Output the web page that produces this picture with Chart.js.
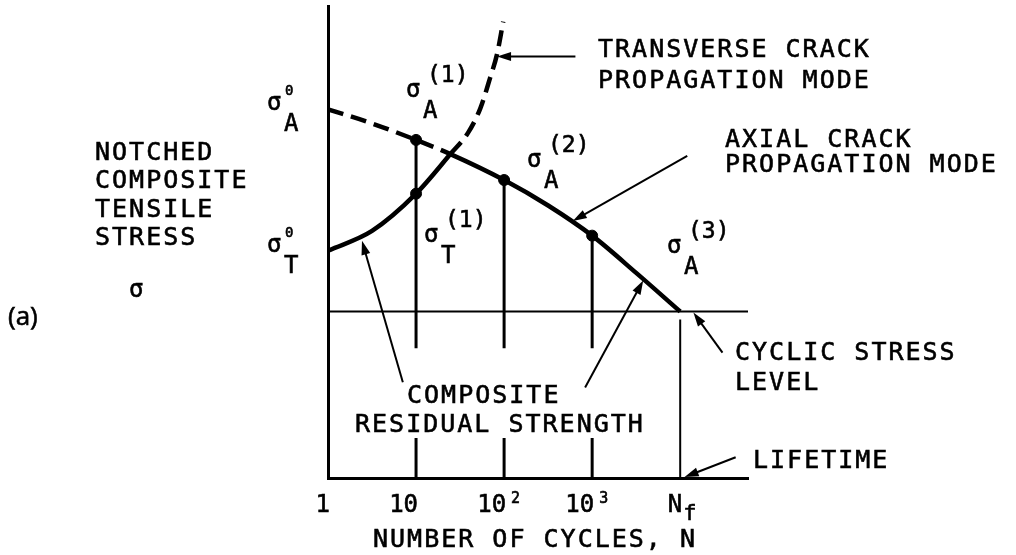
<!DOCTYPE html>
<html>
<head>
<meta charset="utf-8">
<script src="https://cdn.jsdelivr.net/npm/chart.js@4.4.1/dist/chart.umd.min.js"></script>
<style>
  html, body { margin: 0; padding: 0; background: #fff; }
  canvas { display: block; }
</style>
</head>
<body>
<canvas id="chart" width="1016" height="555"></canvas>
<script>
// x = log10 of cycles (schematic: Nf drawn at 4), y = stress in arbitrary units
var axialLogN   = [0, 0.5, 1, 1.39, 2, 2.5, 3, 3.5, 4];
var axialStress = [78.2, 75.2, 71.7, 68.7, 63.2, 57.8, 51.4, 43.5, 35.3];
var transLogN   = [0, 0.5, 1, 1.39, 1.59, 1.73, 1.84, 1.92, 1.99];
var transStress = [48.2, 52.4, 60.3, 68.7, 73.2, 78.4, 84.8, 89.9, 96.8];
var crossLogN = 1.39;
var cyclicStress = 35.3;
var dotLogN   = [1, 1, 2, 3];
var dotStress = [71.7, 60.3, 63.2, 51.4];
var dropLogN  = [1, 2, 3];
var dropTop   = [71.7, 63.2, 51.4];
var dropGap   = [8.5, 27.5];
var lifeLogN = 4;
var lifeTop  = 33.6;
var tickLogN = [0, 1, 2, 3, 4];
var tickBase = ['1', '10', '10', '10', 'N'];
var tickSup  = ['', '', '2', '3', ''];
var tickSub  = ['', '', '', '', 'f'];
var arrowTail = [[2.81, 89.4], [4.08, 68.3], [0.85, 20.3], [2.92, 19.2], [4.48, 26.6], [4.63, 4.4]];
var arrowTip  = [[1.92, 89.4], [2.78, 54.5], [0.386, 50.3], [3.58, 41.9], [4.15, 35.1], [4.05, 0.2]];

var MONO = '"DejaVu Sans Mono", monospace';
var DASH = [16, 8];

function pts(xs, ys) {
    return xs.map(function (x, i) { return { x: x, y: ys[i] }; });
}

var dropData = [];
dropLogN.forEach(function (x, i) {
    dropData.push({ x: x, y: dropTop[i] }, { x: x, y: dropGap[1] }, { x: x, y: null });
    dropData.push({ x: x, y: dropGap[0] }, { x: x, y: 0 }, { x: x, y: null });
});

// text blocks: [text, left, baseline]
var blocks = [
    ['NOTCHED', 95, 160], ['COMPOSITE', 95, 188], ['TENSILE', 95, 217], ['STRESS', 95, 245],
    ['TRANSVERSE CRACK', 598, 57], ['PROPAGATION MODE', 598, 88],
    ['AXIAL CRACK', 725, 147], ['PROPAGATION MODE', 725, 172],
    ['CYCLIC STRESS', 735, 360], ['LEVEL', 735, 390],
    ['LIFETIME', 753, 468],
    ['COMPOSITE', 407, 403], ['RESIDUAL STRENGTH', 355, 432]
];
// sigma labels: [subscript, superscript, left, baseline]
var sigmas = [
    ['A', '0', 268, 110], ['T', '0', 268, 252],
    ['A', '(1)', 407, 97], ['T', '(1)', 425, 242],
    ['A', '(2)', 528, 167], ['A', '(3)', 668, 253]
];

function arrow(ctx, x1, y1, x2, y2) {
    var a = Math.atan2(y2 - y1, x2 - x1), L = 14, W = 4.5;
    ctx.beginPath();
    ctx.moveTo(x1, y1);
    ctx.lineTo(x2 - Math.cos(a) * L * 0.6, y2 - Math.sin(a) * L * 0.6);
    ctx.lineWidth = 2;
    ctx.stroke();
    ctx.beginPath();
    ctx.moveTo(x2, y2);
    ctx.lineTo(x2 - L * Math.cos(a) + W * Math.sin(a), y2 - L * Math.sin(a) - W * Math.cos(a));
    ctx.lineTo(x2 - L * Math.cos(a) - W * Math.sin(a), y2 - L * Math.sin(a) + W * Math.cos(a));
    ctx.closePath();
    ctx.fill();
}

// fill plus a thin stroke so the plotter lettering looks heavier
function ink(ctx, s, x, y) {
    ctx.fillText(s, x, y);
    ctx.strokeText(s, x, y);
}

var annotate = {
    id: 'annotate',
    afterDraw: function (chart) {
        var ctx = chart.ctx, xs = chart.scales.x, ys = chart.scales.y;
        ctx.save();
        ctx.fillStyle = '#000';
        ctx.strokeStyle = '#000';

        arrowTail.forEach(function (t, i) {
            var h = arrowTip[i];
            arrow(ctx, xs.getPixelForValue(t[0]), ys.getPixelForValue(t[1]),
                       xs.getPixelForValue(h[0]), ys.getPixelForValue(h[1]));
        });

        ctx.lineWidth = 0.6;
        ctx.textBaseline = 'alphabetic';
        ctx.textAlign = 'left';
        ctx.font = '25px ' + MONO;
        ctx.letterSpacing = '2px';
        blocks.forEach(function (b) { ink(ctx, b[0], b[1], b[2]); });
        ctx.textAlign = 'center';
        ink(ctx, 'NUMBER OF CYCLES, N', 535, 547);
        ctx.letterSpacing = '0px';

        // sigma labels
        ctx.textAlign = 'left';
        ctx.font = '24px ' + MONO;
        ink(ctx, '\u03c3', 129, 297);
        sigmas.forEach(function (s) {
            ctx.font = '24px ' + MONO;
            ink(ctx, '\u03c3', s[2] - 1, s[3]);
            ink(ctx, s[0], s[2] + 16, s[3] + 21);
            if (s[1] === '0') {
                ctx.font = '14px ' + MONO;
                ink(ctx, s[1], s[2] + 17, s[3] - 15);
            } else {
                ctx.font = '23px ' + MONO;
                ink(ctx, s[1], s[2] + 20, s[3] - 15);
            }
        });

        // x tick labels
        tickLogN.forEach(function (v, i) {
            var px = xs.getPixelForValue(v) + 2;
            ctx.font = '24px ' + MONO;
            ctx.textAlign = 'right';
            ink(ctx, tickBase[i], px, 512);
            ctx.textAlign = 'left';
            if (tickSup[i]) {
                ctx.font = '15px ' + MONO;
                ink(ctx, tickSup[i], px + 5, 503);
            }
            if (tickSub[i]) {
                ctx.font = '22px ' + MONO;
                ink(ctx, tickSub[i], px + 1, 520);
            }
        });

        ctx.font = '26px "Open Sans", sans-serif';
        ink(ctx, '(a)', 8, 325);
        ctx.restore();
    }
};

new Chart(document.getElementById('chart').getContext('2d'), {
    type: 'line',
    data: {
        datasets: [{
            data: pts(axialLogN, axialStress),
            borderColor: '#000',
            borderWidth: 4.5,
            pointRadius: 0,
            cubicInterpolationMode: 'monotone',
            segment: {
                borderDash: function (c) { return c.p1.parsed.x <= crossLogN + 1e-6 ? DASH : undefined; }
            }
        }, {
            data: pts(transLogN, transStress),
            borderColor: '#000',
            borderWidth: 4.5,
            pointRadius: 0,
            cubicInterpolationMode: 'monotone',
            segment: {
                borderDash: function (c) { return c.p0.parsed.x >= crossLogN - 1e-6 ? DASH : undefined; }
            }
        }, {
            data: [{ x: 0, y: cyclicStress }, { x: 4.77, y: cyclicStress }],
            borderColor: '#000',
            borderWidth: 2,
            pointRadius: 0
        }, {
            data: dropData,
            borderColor: '#000',
            borderWidth: 3,
            pointRadius: 0,
            spanGaps: false
        }, {
            data: [{ x: lifeLogN, y: lifeTop }, { x: lifeLogN, y: 0 }],
            borderColor: '#000',
            borderWidth: 2,
            pointRadius: 0
        }, {
            data: pts(dotLogN, dotStress),
            showLine: false,
            pointRadius: 5.5,
            pointBackgroundColor: '#000',
            pointBorderColor: '#000'
        }]
    },
    options: {
        responsive: false,
        animation: false,
        events: [],
        layout: { padding: { left: 320, right: 268, top: 5, bottom: 69 } },
        plugins: { legend: { display: false }, tooltip: { enabled: false } },
        scales: {
            x: {
                type: 'linear', min: 0, max: 4.77,
                grid: { display: false },
                ticks: { display: false },
                border: { display: true, color: '#000', width: 3 }
            },
            y: {
                type: 'linear', min: 0, max: 100,
                grid: { display: false },
                ticks: { display: false },
                border: { display: true, color: '#000', width: 3 }
            }
        }
    },
    plugins: [annotate]
});
</script>
</body>
</html>
